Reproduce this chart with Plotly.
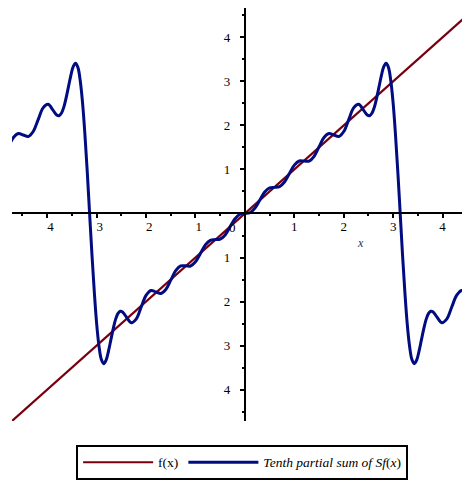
import plotly.graph_objects as go

# f(x) = x, drawn across the visible window
fx_x = [-4.712, 4.712]
fx_y = [-4.712, 4.712]

# Tenth partial sum of the Fourier series
sum_x = [-4.783, -4.683, -4.583, -4.483, -4.383, -4.283, -4.183, -4.083, -3.983, -3.883,
         -3.808, -3.760, -3.713, -3.665, -3.618, -3.570, -3.522, -3.475, -3.427, -3.379,
         -3.332, -3.284, -3.237, -3.189,
         -3.142, -3.094, -3.046, -2.999, -2.951, -2.904, -2.856, -2.808, -2.761, -2.713,
         -2.665, -2.618, -2.570, -2.523, -2.475, -2.4, -2.3, -2.2, -2.1, -2.0, -1.9, -1.8,
         -1.7, -1.6, -1.5, -1.4, -1.3, -1.2, -1.1, -1.0, -0.9, -0.8, -0.7, -0.6, -0.5, -0.4,
         -0.3, -0.2, -0.1,
         0.0, 0.1, 0.2, 0.3, 0.4, 0.5, 0.6, 0.7, 0.8, 0.9, 1.0, 1.1, 1.2, 1.3, 1.4, 1.5,
         1.6, 1.7, 1.8, 1.9, 2.0, 2.1, 2.2, 2.3, 2.4, 2.475, 2.523, 2.570, 2.618, 2.665,
         2.713, 2.761, 2.808, 2.856, 2.904, 2.951, 2.999, 3.046, 3.094, 3.142,
         3.189, 3.237, 3.284, 3.332, 3.379, 3.427, 3.475, 3.522, 3.570, 3.618, 3.665,
         3.713, 3.760, 3.808, 3.883, 3.983, 4.083, 4.183, 4.283, 4.383, 4.483, 4.583,
         4.683, 4.783]
sum_y = [1.514, 1.726, 1.816, 1.781, 1.748, 1.861, 2.130, 2.398, 2.479, 2.348,
         2.235, 2.220, 2.275, 2.410, 2.620, 2.876, 3.132, 3.330, 3.411, 3.318,
         3.020, 2.506, 1.797, 0.939,
         0.0, -0.939, -1.797, -2.506, -3.020, -3.318, -3.411, -3.330, -3.132, -2.876,
         -2.620, -2.410, -2.275, -2.220, -2.235, -2.348, -2.479, -2.398, -2.130, -1.861,
         -1.748, -1.781, -1.816, -1.726, -1.514, -1.299, -1.191, -1.189, -1.192, -1.098,
         -0.908, -0.714, -0.609, -0.593, -0.582, -0.487, -0.300, -0.118, -0.017,
         0.0, 0.017, 0.118, 0.300, 0.487, 0.582, 0.593, 0.609, 0.714, 0.908, 1.098,
         1.192, 1.189, 1.191, 1.299, 1.514, 1.726, 1.816, 1.781, 1.748, 1.861, 2.130,
         2.398, 2.479, 2.348, 2.235, 2.220, 2.275, 2.410, 2.620, 2.876, 3.132, 3.330,
         3.411, 3.318, 3.020, 2.506, 1.797, 0.939, 0.0,
         -0.939, -1.797, -2.506, -3.020, -3.318, -3.411, -3.330, -3.132, -2.876, -2.620,
         -2.410, -2.275, -2.220, -2.235, -2.348, -2.479, -2.398, -2.130, -1.861, -1.748,
         -1.781, -1.816, -1.726, -1.514]

x_tickvals = [-4, -3, -2, -1, 1, 2, 3, 4]
x_ticktext = ["\u20074", "\u20073", "\u20072", "\u20071", "1", "2", "3", "4"]
x_minorvals = [-4.5, -3.5, -2.5, -1.5, -0.5, 0.5, 1.5, 2.5, 3.5, 4.5]
y_tickvals = [-4, -3, -2, -1, 1, 2, 3, 4]
y_ticktext = ["4", "3", "2", "1", "1", "2", "3", "4"]
y_minorvals = [-4.5, -3.5, -2.5, -1.5, -0.5, 0.5, 1.5, 2.5, 3.5, 4.5]

X_RANGE = [-4.712, 4.554]
Y_RANGE = [-4.712, 4.666]

RED = "#78000E"
BLUE = "#000C80"
SERIF = "Liberation Serif"

fig = go.Figure()
fig.add_trace(go.Scatter(x=fx_x, y=fx_y, mode="lines", name="f(x)",
                         line=dict(color=RED, width=2.2)))
fig.add_trace(go.Scatter(x=sum_x, y=sum_y, mode="lines",
                         name="<i>Tenth partial sum of Sf</i>(<i>x</i>)",
                         line=dict(color=BLUE, width=3, shape="spline")))

axis_common = dict(showgrid=False, zeroline=False, showline=True, linecolor="black",
                   linewidth=2, ticks="outside", ticklen=4, tickwidth=1.5,
                   tickcolor="black", tickmode="array", automargin=False,
                   tickfont=dict(family=SERIF, size=13, color="black"))

y_pos = (0 - X_RANGE[0]) / (X_RANGE[1] - X_RANGE[0])
x_pos = (0 - Y_RANGE[0]) / (Y_RANGE[1] - Y_RANGE[0])

# the page adds an 8px body margin, so the figure is sized/offset to compensate
fig.update_layout(
    autosize=False,
    width=462, height=474,
    margin=dict(l=4, r=0, t=0, b=61, autoexpand=False),
    paper_bgcolor="white", plot_bgcolor="white",
    xaxis=dict(range=X_RANGE, anchor="free", position=x_pos,
               tickvals=x_tickvals, ticktext=x_ticktext, ticklabelstandoff=-3,
               minor=dict(tickmode="array", tickvals=x_minorvals, ticks="outside",
                          ticklen=2, tickwidth=1.5, tickcolor="black"),
               **axis_common),
    yaxis=dict(range=Y_RANGE, anchor="free", position=y_pos,
               tickvals=y_tickvals, ticktext=y_ticktext, ticklabelstandoff=7,
               minor=dict(tickmode="array", tickvals=y_minorvals, ticks="outside",
                          ticklen=2, tickwidth=1.5, tickcolor="black"),
               **axis_common),
    showlegend=True,
    legend=dict(orientation="h", x=0.14, y=-0.058, xanchor="left", yanchor="top",
                bordercolor="black", borderwidth=2, bgcolor="white",
                itemwidth=70,
                font=dict(family=SERIF, size=13.5, color="black")),
    annotations=[
        dict(x=-0.243, y=-0.307, xref="x", yref="y", text="0", showarrow=False,
             font=dict(family=SERIF, size=13, color="black")),
        dict(x=2.347, y=-0.67, xref="x", yref="y", text="<i>x</i>", showarrow=False,
             font=dict(family=SERIF, size=12, color="#333333")),
    ],
)

fig.write_html("out.html")
